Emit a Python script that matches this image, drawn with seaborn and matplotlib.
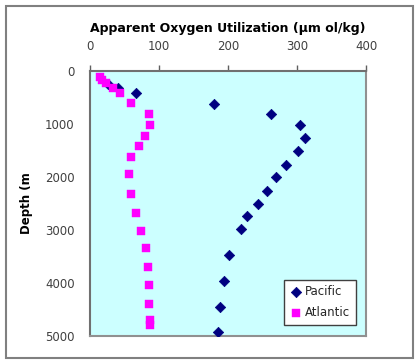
import matplotlib
matplotlib.use("Agg")
import matplotlib.pyplot as plt
import seaborn as sns
import pandas as pd
from matplotlib.patches import Rectangle

# Data (AOU in umol/kg, depth in m)
pacific_aou = [26, 40, 66, 179, 263, 304, 312, 301, 284, 269, 256, 243, 228, 219, 202, 194, 189, 185]
pacific_depth = [240, 322, 411, 625, 820, 1023, 1269, 1515, 1768, 2001, 2260, 2500, 2733, 2986, 3472, 3958, 4451, 4930]

atlantic_aou = [14, 18, 23, 33, 44, 60, 86, 87, 79, 71, 60, 56, 60, 66, 74, 81, 84, 86, 86, 87, 87]
atlantic_depth = [108, 170, 222, 322, 422, 612, 814, 1010, 1218, 1420, 1623, 1951, 2316, 2676, 3011, 3347, 3706, 4040, 4400, 4697, 4792]

x_ticks = [0, 100, 200, 300, 400]
y_ticks = [0, 1000, 2000, 3000, 4000, 5000]

pac = pd.DataFrame({"AOU": pacific_aou, "Depth": pacific_depth})
atl = pd.DataFrame({"AOU": atlantic_aou, "Depth": atlantic_depth})

sns.set_style("white")
plt.rcParams['font.family'] = ['DejaVu Sans']

fig = plt.figure(figsize=(4.2, 3.64), dpi=100)
ax = fig.add_axes([90/420, 1-336/364, 276/420, 265/364])
ax.set_facecolor("#CCFFFF")

sns.scatterplot(data=pac, x="AOU", y="Depth", marker="D", s=28, color="#000080",
                edgecolor="#000080", linewidth=0.5, ax=ax, label="Pacific", zorder=3)
sns.scatterplot(data=atl, x="AOU", y="Depth", marker="s", s=30, color="#FF00FF",
                edgecolor="#FF00FF", linewidth=0.3, ax=ax, label="Atlantic", zorder=4)

ax.set_xlim(0, 400)
ax.set_ylim(5000, 0)
ax.xaxis.tick_top()
ax.xaxis.set_label_position("top")
ax.set_xticks(x_ticks)
ax.set_yticks(y_ticks)
ax.tick_params(axis="both", which="both", direction="out", length=4, width=1,
               color="#606060", labelsize=8.5, labelcolor="#404040")
ax.tick_params(axis="x", pad=9)
ax.tick_params(axis="y", pad=7)

for side in ["left", "top"]:
    ax.spines[side].set_color("#707070")
    ax.spines[side].set_linewidth(1.5)
for side in ["right", "bottom"]:
    ax.spines[side].set_color("#909090")
    ax.spines[side].set_linewidth(1.5)

ax.set_xlabel("Apparent Oxygen Utilization (µm ol/kg)", fontsize=9, fontweight="bold",
              labelpad=6, color="black")
ax.set_ylabel("Depth (m", fontsize=8.5, fontweight="bold", labelpad=9, color="black")

leg = ax.legend(loc="lower right", bbox_to_anchor=(0.975, 0.03), fontsize=8.5,
                frameon=True, fancybox=False, edgecolor="#404040", framealpha=1,
                handletextpad=0.3, borderpad=0.45, labelspacing=0.7, handlelength=1.0,
                borderaxespad=0.3)
leg.get_frame().set_linewidth(1)

fig.patches.append(Rectangle((5.5/420, 1-358/364), (413-5.5)/420, (358-5.5)/364,
                             transform=fig.transFigure, fill=False,
                             edgecolor="#808080", linewidth=1.5, zorder=0))

fig.savefig("out.png", dpi=100, facecolor="white")
